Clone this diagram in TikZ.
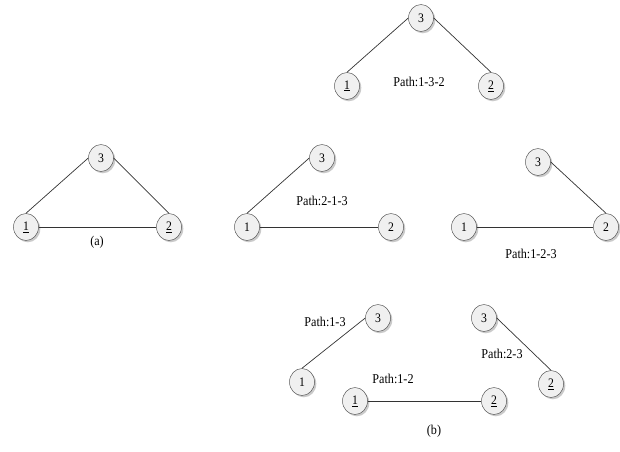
\documentclass[tikz,border=0pt]{standalone}
\usepackage{fontspec}
\setmainfont[FakeStretch=0.9]{Liberation Serif}
\usetikzlibrary{shapes.geometric,shadows}
\begin{document}
\begin{tikzpicture}[x=1pt,y=-1pt,
  vert/.style={ellipse,draw=black!65,line width=0.5pt,fill=black!6,minimum width=25pt,minimum height=27pt,inner sep=0pt,
    font=\fontsize{13}{14}\selectfont,
    drop shadow={shadow xshift=1.8pt,shadow yshift=-1.8pt,fill=black!35,opacity=0.6}},
  lbl/.style={font=\fontsize{13.5}{15}\selectfont,inner sep=0pt},
  edge/.style={draw=black!80,line width=0.7pt}]
\useasboundingbox (0,0) rectangle (620,451);
% top
\node[vert] (t3) at (421,18) {3};
\node[vert] (t1) at (347,86) {\underline{1}};
\node[vert] (t2) at (491,86) {\underline{2}};
\node[lbl] (tl) at (419,82) {Path:1-3-2};
\draw[edge] (t3.west) -- (t1.north);
\draw[edge] (t3.east) -- (t2.north);
% (a)
\node[vert] (a3) at (101,158) {3};
\node[vert] (a1) at (26,227) {\underline{1}};
\node[vert] (a2) at (169,227) {\underline{2}};
\node[lbl] (al) at (97,242) {(a)};
\draw[edge] (a3.west) -- (a1.north);
\draw[edge] (a3.east) -- (a2.north);
\draw[edge] (a1) -- (a2);
% middle
\node[vert] (m3) at (322,158) {3};
\node[vert] (m1) at (247,227) {1};
\node[vert] (m2) at (391,227) {2};
\node[lbl] (ml) at (322,201) {Path:2-1-3};
\draw[edge] (m3.west) -- (m1.north);
\draw[edge] (m1) -- (m2);
% right
\node[vert] (r3) at (538,162) {3};
\node[vert] (r1) at (464,227) {1};
\node[vert] (r2) at (606,227) {2};
\node[lbl] (rl) at (531,254) {Path:1-2-3};
\draw[edge] (r1) -- (r2);
\draw[edge] (r3.east) -- (r2.north);
% bottom (b)
\node[vert] (b13) at (378,318) {3};
\node[vert] (b11) at (302,382) {1};
\node[lbl] (b1l) at (325,322) {Path:1-3};
\draw[edge] (b13.west) -- (b11.north);
\node[vert] (b23) at (484,318) {3};
\node[vert] (b22) at (551,384) {\underline{2}};
\node[lbl] (b2l) at (502,354) {Path:2-3};
\draw[edge] (b23.east) -- (b22.north);
\node[vert] (b31) at (355,401) {\underline{1}};
\node[vert] (b32) at (494,401) {\underline{2}};
\node[lbl] (b3l) at (393,379) {Path:1-2};
\draw[edge] (b31) -- (b32);
\node[lbl] (bl) at (434,431) {(b)};
\end{tikzpicture}
\end{document}
